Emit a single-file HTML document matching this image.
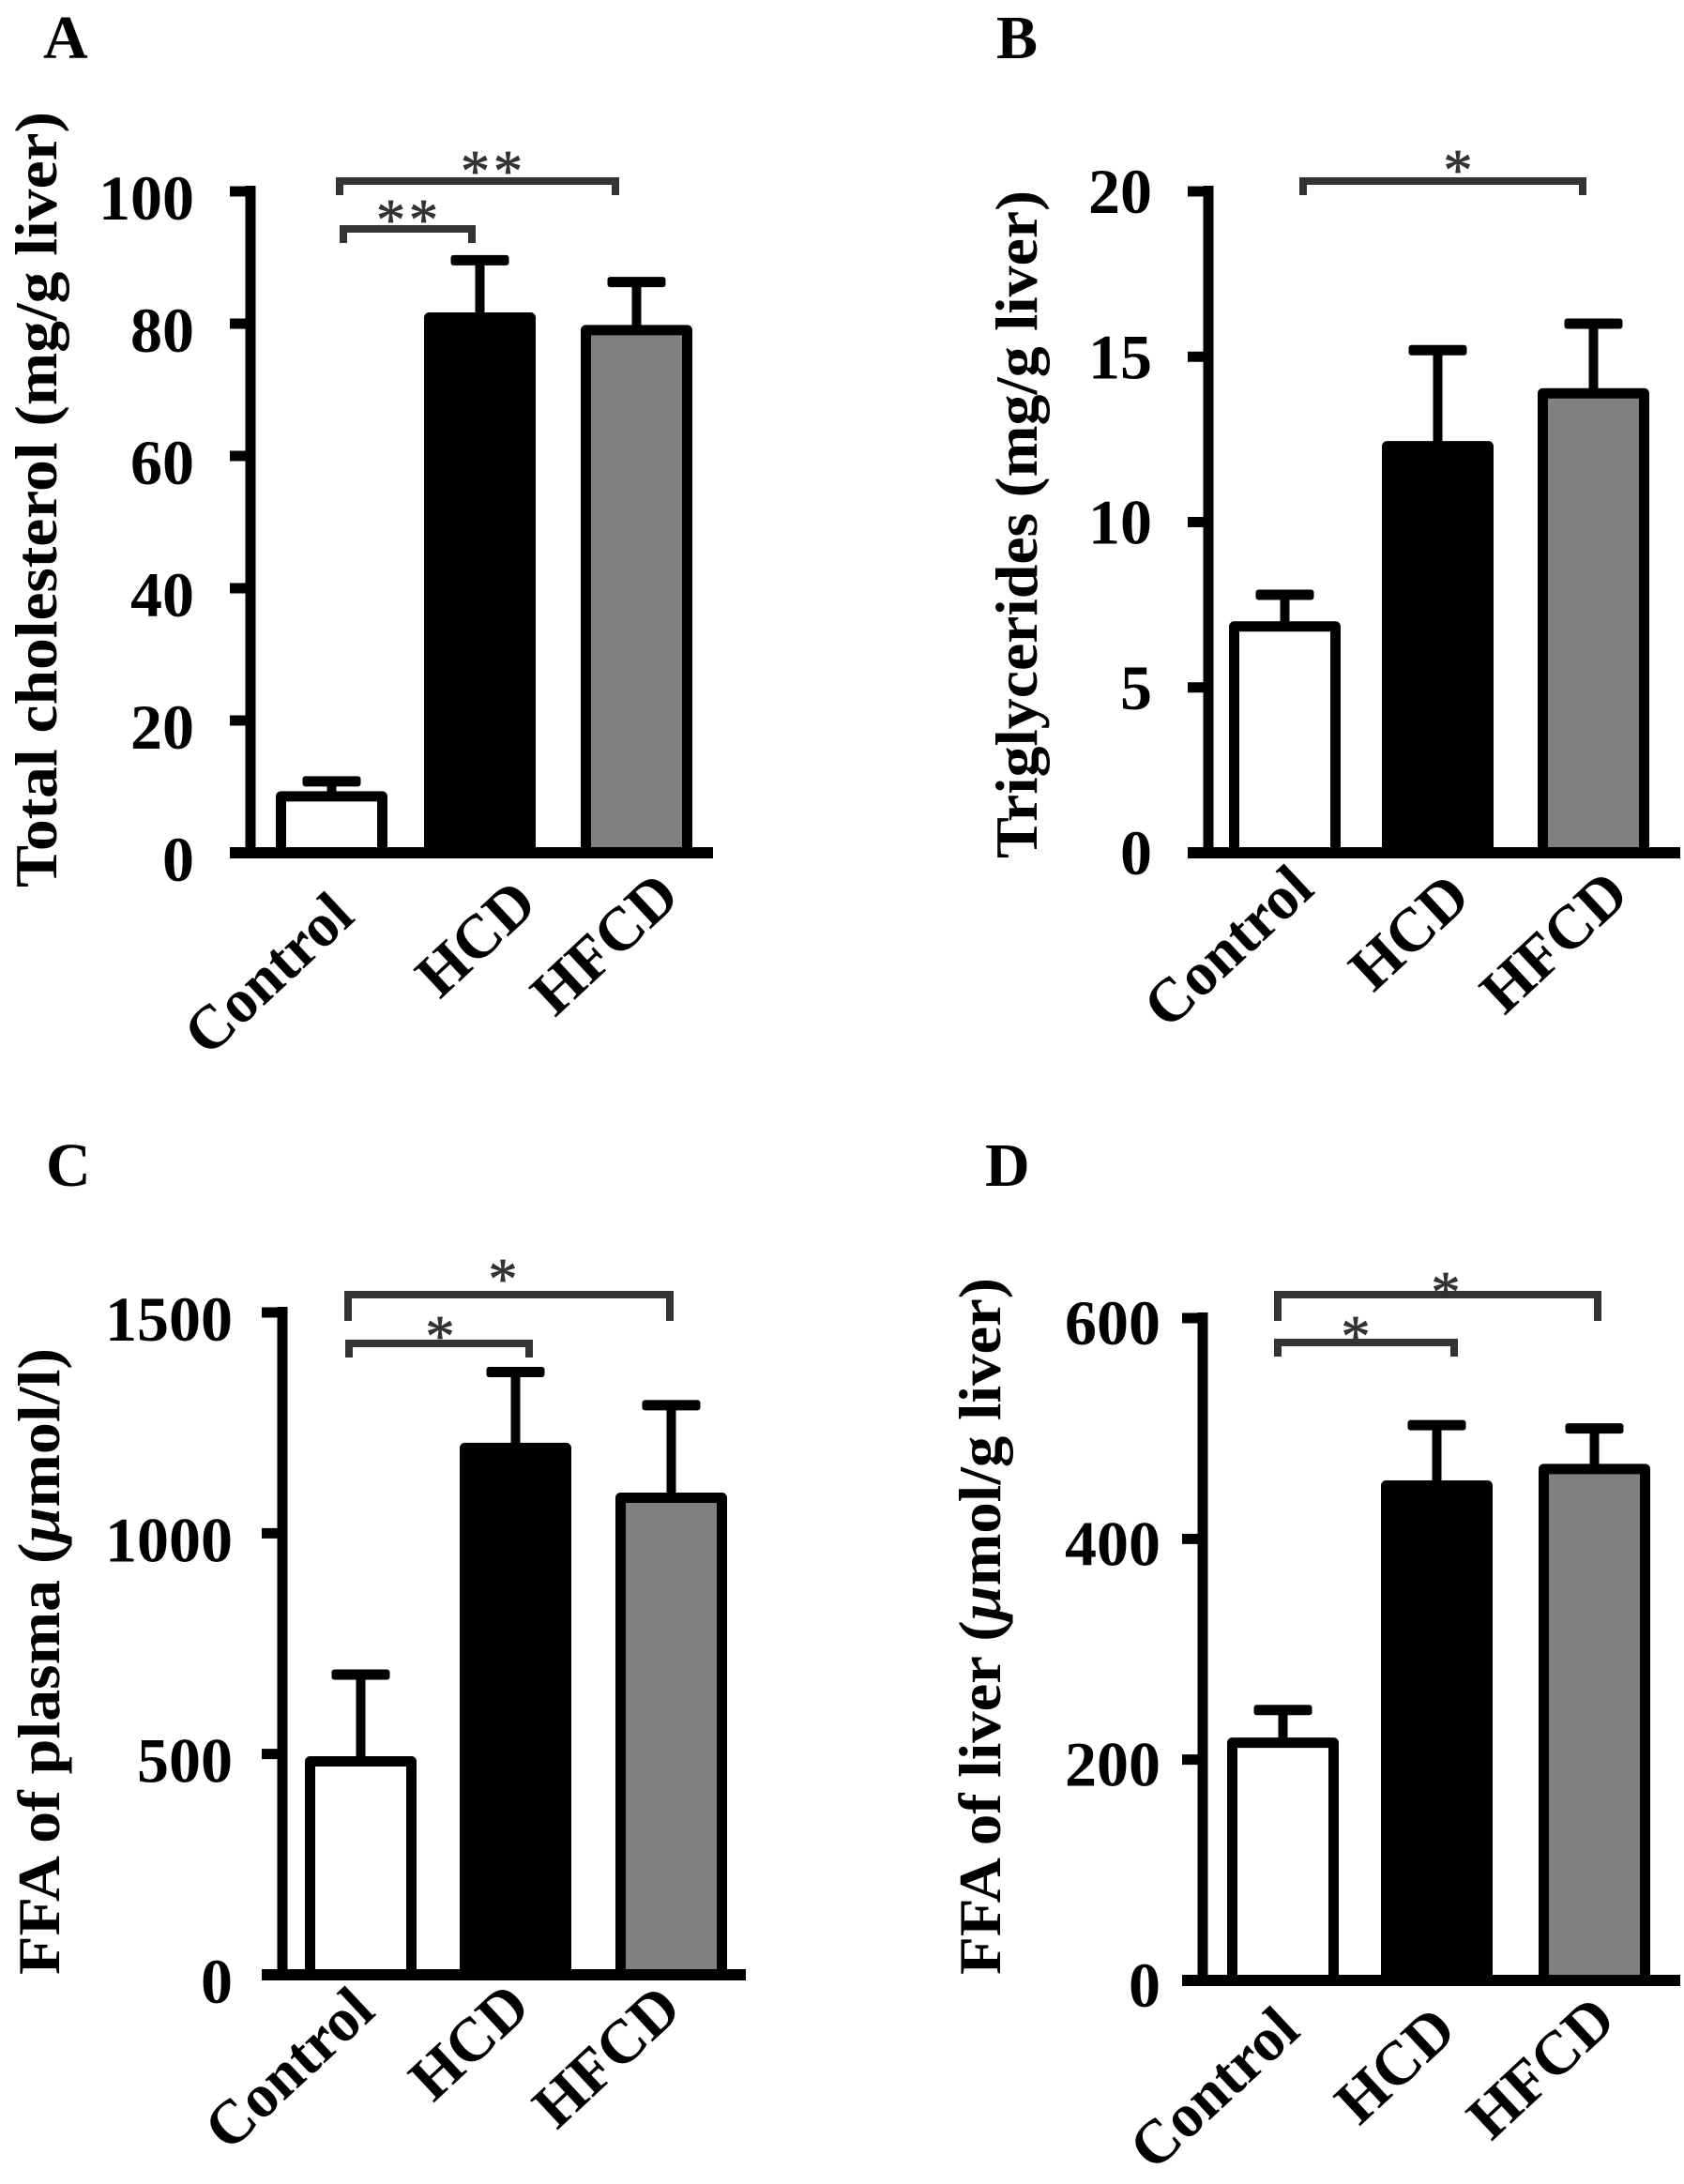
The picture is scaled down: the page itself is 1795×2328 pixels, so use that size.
<!DOCTYPE html>
<html>
<head>
<meta charset="utf-8">
<title>Lipid bar charts</title>
<style>
html,body{margin:0;padding:0;background:#fff;}
svg{display:block;}
text{font-family:"Liberation Serif","DejaVu Serif",serif;font-weight:bold;fill:#000;}
</style>
</head>
<body>
<svg id="figure" xmlns="http://www.w3.org/2000/svg" width="1795" height="2328" viewBox="0 0 1795 2328"></svg>
<script>
const categories = ["Control", "HCD", "HFCD"];

const panelATicks = [0, 20, 40, 60, 80, 100];
const panelAMeans = [9.3, 81.7, 79.8];
const panelAUpper = [10.8, 89.6, 86.3];

const panelBTicks = [0, 5, 10, 15, 20];
const panelBMeans = [7, 12.45, 14.05];
const panelBUpper = [7.8, 15.2, 16];

const panelCTicks = [0, 500, 1000, 1500];
const panelCMeans = [495, 1205, 1092];
const panelCUpper = [680, 1365, 1290];

const panelDTicks = [0, 200, 400, 600];
const panelDMeans = [220, 453, 468];
const panelDUpper = [245, 503, 500];

const fills = ["#ffffff", "#000000", "#808080"];

const panels = [
  { id: "a", letter: "A", lx: 46, ly: 62, axisX: 267, top: 204, base: 909, right: 760, ldx: 0, ldy: -3, ticks: panelATicks, means: panelAMeans, upper: panelAUpper,
    bars: [294, 452, 619], bw: 119, title: "Total cholesterol (mg/g liver)", tx: 60, ty0: 946, tlen: 827,
    cats: [[380, 980], [575, 967], [727, 959]],
    brackets: [
      { x1: 362, x2: 656, y: 193, leg: 15, sx: 526, sy: 203, s: "**" },
      { x1: 366, x2: 503, y: 244, leg: 15, sx: 436, sy: 255, s: "**" }
    ] },
  { id: "b", letter: "B", lx: 1062, ly: 62, axisX: 1288, top: 204, base: 909, right: 1791, ldx: 0, ldy: -10, ticks: panelBTicks, means: panelBMeans, upper: panelBUpper,
    bars: [1310, 1473, 1639], bw: 119, title: "Triglycerides (mg/g liver)", tx: 1105, ty0: 915, tlen: 712,
    cats: [[1403, 951], [1570, 960], [1739, 957]],
    brackets: [
      { x1: 1389, x2: 1687, y: 193, leg: 15, sx: 1556, sy: 202, s: "*" }
    ] },
  { id: "c", letter: "C", lx: 49, ly: 1264, axisX: 301, top: 1399, base: 2105, right: 795, ldx: 7, ldy: -3, ticks: panelCTicks, means: panelCMeans, upper: panelCUpper,
    bars: [325, 490, 656], bw: 119, title: "FFA of plasma (\u03BCmol/l)", tx: 63, ty0: 2105, tlen: 668,
    cats: [[402, 2147], [568, 2143], [729, 2145]],
    brackets: [
      { x1: 371, x2: 714, y: 1380, leg: 28, sx: 538, sy: 1384, s: "*" },
      { x1: 372, x2: 564, y: 1432, leg: 15, sx: 471, sy: 1445, s: "*" }
    ] },
  { id: "d", letter: "D", lx: 1050, ly: 1264, axisX: 1282, top: 1405, base: 2111, right: 1791, ldx: 15, ldy: -5, ticks: panelDTicks, means: panelDMeans, upper: panelDUpper,
    bars: [1308, 1472, 1640], bw: 119, title: "FFA of liver (\u03BCmol/g liver)", tx: 1066, ty0: 2105, tlen: 743,
    cats: [[1388, 2168], [1555, 2168], [1725, 2157]],
    brackets: [
      { x1: 1362, x2: 1703, y: 1380, leg: 28, sx: 1543, sy: 1398, s: "*" },
      { x1: 1362, x2: 1550, y: 1431, leg: 15, sx: 1447, sy: 1445, s: "*" }
    ] }
];

const NS = "http://www.w3.org/2000/svg";
const svg = document.getElementById("figure");

function mk(tag, parent, attrs) {
  const n = document.createElementNS(NS, tag);
  for (const k in attrs) n.setAttribute(k, attrs[k]);
  parent.appendChild(n);
  return n;
}

function yScale(p, v) {
  const max = p.ticks[p.ticks.length - 1];
  return p.base - (v / max) * (p.base - p.top);
}

panels.forEach(function (p) {
  const g = mk("g", svg, {});
  
  

  const letter = mk("text", g, { x: p.lx, y: p.ly, "font-size": 66 });
  
  
  letter.textContent = p.letter;

  // error bars first, so bars cover stem bottoms
  categories.forEach(function (c, i) {
    const cx = p.bars[i] + p.bw / 2;
    const stem = mk("line", g, { x1: cx, x2: cx, y1: yScale(p, p.means[i]) + 4, y2: yScale(p, p.upper[i]), stroke: "#000", "stroke-width": 10 });
    
    
    const cap = mk("rect", g, { x: cx - 31, width: 62, y: yScale(p, p.upper[i]) - 5.5, height: 11, rx: 3, fill: "#000" });
    
    
  });

  categories.forEach(function (c, i) {
    const sw = 11;
    const yTop = yScale(p, p.means[i]);
    const bar = mk("rect", g, {
      x: p.bars[i] + sw / 2, y: yTop + sw / 2, width: p.bw - sw, height: p.base - yTop - sw / 2,
      fill: fills[i], stroke: "#000", "stroke-width": sw, "stroke-linejoin": "round"
    });
    
    
  });

  const yAxis = mk("line", g, { x1: p.axisX, x2: p.axisX, y1: p.top - 6, y2: p.base, stroke: "#000", "stroke-width": 11 });
  
  

  const xAxis = mk("line", g, { x1: p.axisX - 22, x2: p.right, y1: p.base, y2: p.base, stroke: "#000", "stroke-width": 12 });
  
  

  p.ticks.forEach(function (t) {
    const y = yScale(p, t);
    const tick = mk("line", g, { x1: p.axisX - 22, x2: p.axisX, y1: y, y2: y, stroke: "#000", "stroke-width": 11 });
    
    
    const lab = mk("text", g, { x: p.axisX - 60 + p.ldx, y: y + 33 + p.ldy, "font-size": 68, "text-anchor": "end" });
    
    
    lab.textContent = t;
  });

  const title = mk("text", g, {
    transform: "translate(" + p.tx + "," + p.ty0 + ") rotate(-90)", "font-size": 64,
    textLength: p.tlen, lengthAdjust: "spacingAndGlyphs"
  });
  
  
  const idx = p.title.indexOf("\u03BC");
  if (idx >= 0) {
    title.appendChild(document.createTextNode(p.title.slice(0, idx)));
    const mu = mk("tspan", title, { "font-style": "italic" });
    
    
    mu.textContent = "\u03BC";
    title.appendChild(document.createTextNode(p.title.slice(idx + 1)));
  } else {
    title.textContent = p.title;
  }

  categories.forEach(function (c, i) {
    const pos = p.cats[i];
    const lab = mk("text", g, {
      transform: "translate(" + pos[0] + "," + pos[1] + ") rotate(-43) scale(0.99,1)",
      "font-size": 66, "text-anchor": "end"
    });
    
    
    lab.textContent = c;
  });

  p.brackets.forEach(function (b, i) {
    const path = mk("path", g, {
      d: "M" + b.x1 + " " + (b.y + b.leg) + "V" + b.y + "H" + b.x2 + "V" + (b.y + b.leg),
      fill: "none", stroke: "#333", "stroke-width": 8
    });
    
    
    const star = mk("text", g, { x: b.sx, y: b.sy, "font-size": 62, "text-anchor": "middle", "letter-spacing": 4 });
    star.setAttribute('style', 'font-weight:normal;fill:#333;stroke:#333;stroke-width:0.8');
    
    
    star.textContent = b.s;
  });
});
</script>
</body>
</html>
